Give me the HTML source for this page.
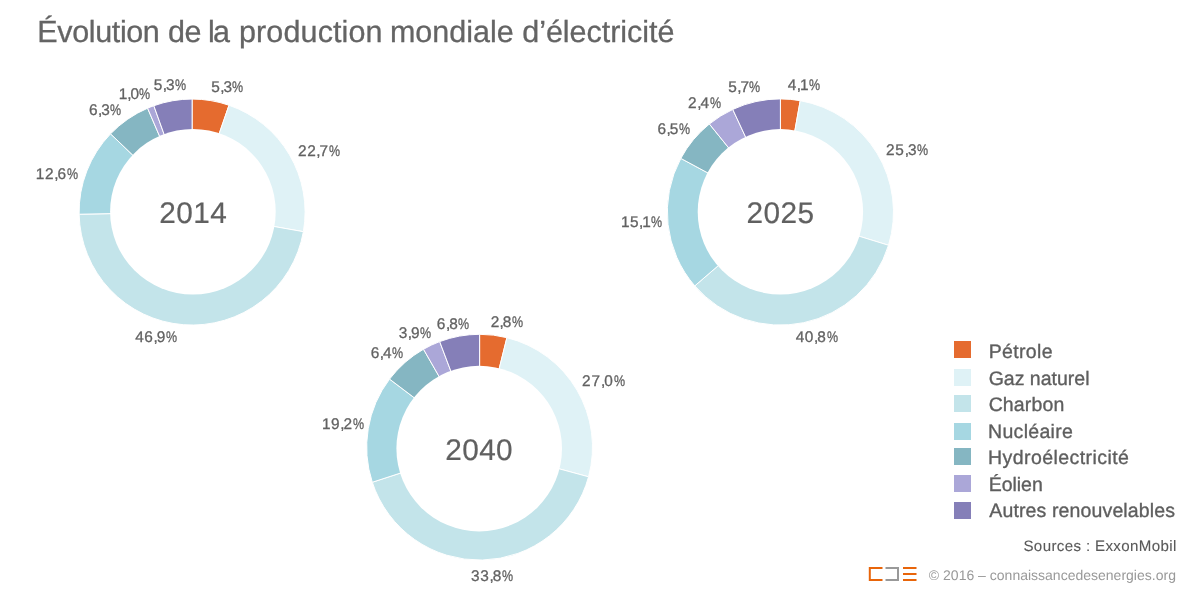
<!DOCTYPE html>
<html><head><meta charset="utf-8"><title>Évolution de la production mondiale d’électricité</title>
<style>
html,body{margin:0;padding:0;background:#fff;}
body{width:1200px;height:600px;position:relative;overflow:hidden;font-family:"Liberation Sans",sans-serif;text-rendering:geometricPrecision;}
#txt{position:absolute;left:0;top:0;width:1200px;height:600px;will-change:transform;}
.t{position:absolute;white-space:nowrap;line-height:1;}
.title{font-size:30.5px;color:#646464;-webkit-text-stroke:0.3px #646464;}
.yr{font-size:29.8px;color:#606060;-webkit-text-stroke:0.2px #606060;}
.lg{font-size:19.5px;color:#5e5e5e;-webkit-text-stroke:0.35px #5e5e5e;}
.lb{font-size:15.4px;color:#626262;-webkit-text-stroke:0.3px #626262;}
.src{font-size:15.1px;color:#585858;-webkit-text-stroke:0.1px #585858;}
.cp{font-size:14px;color:#999;}
.lb i{font-style:normal;letter-spacing:-1px;}
.lb b{font-weight:normal;display:inline-block;transform:scaleX(0.81);transform-origin:0 50%;letter-spacing:0;}
.sq{position:absolute;left:954px;width:17px;height:17px;}
svg{position:absolute;left:0;top:0;}
</style></head><body>
<svg width="1200" height="600" viewBox="0 0 1200 600">
<path d="M192.1 212.05L192.10 99.05A113.0 113.0 0 0 1 229.00 105.24Z" fill="#E56B2F" stroke="#fff" stroke-width="1" stroke-linejoin="round"/>
<path d="M192.1 212.05L229.00 105.24A113.0 113.0 0 0 1 303.38 231.67Z" fill="#DFF2F6" stroke="#fff" stroke-width="1" stroke-linejoin="round"/>
<path d="M192.1 212.05L303.38 231.67A113.0 113.0 0 0 1 79.12 214.22Z" fill="#C3E4EA" stroke="#fff" stroke-width="1" stroke-linejoin="round"/>
<path d="M192.1 212.05L79.12 214.22A113.0 113.0 0 0 1 110.54 133.84Z" fill="#A6D7E2" stroke="#fff" stroke-width="1" stroke-linejoin="round"/>
<path d="M192.1 212.05L110.54 133.84A113.0 113.0 0 0 1 147.58 108.19Z" fill="#85B6C2" stroke="#fff" stroke-width="1" stroke-linejoin="round"/>
<path d="M192.1 212.05L147.58 108.19A113.0 113.0 0 0 1 153.82 105.73Z" fill="#ABA7D8" stroke="#fff" stroke-width="1" stroke-linejoin="round"/>
<path d="M192.1 212.05L153.82 105.73A113.0 113.0 0 0 1 192.10 99.05Z" fill="#857FB8" stroke="#fff" stroke-width="1" stroke-linejoin="round"/>
<circle cx="192.9" cy="211.7" r="82.8" fill="#fff"/>
<path d="M780.4 212.0L780.40 98.90A113.1 113.1 0 0 1 800.23 100.65Z" fill="#E56B2F" stroke="#fff" stroke-width="1" stroke-linejoin="round"/>
<path d="M780.4 212.0L800.23 100.65A113.1 113.1 0 0 1 888.50 245.26Z" fill="#DFF2F6" stroke="#fff" stroke-width="1" stroke-linejoin="round"/>
<path d="M780.4 212.0L888.50 245.26A113.1 113.1 0 0 1 694.78 285.90Z" fill="#C3E4EA" stroke="#fff" stroke-width="1" stroke-linejoin="round"/>
<path d="M780.4 212.0L694.78 285.90A113.1 113.1 0 0 1 680.82 158.38Z" fill="#A6D7E2" stroke="#fff" stroke-width="1" stroke-linejoin="round"/>
<path d="M780.4 212.0L680.82 158.38A113.1 113.1 0 0 1 709.38 123.98Z" fill="#85B6C2" stroke="#fff" stroke-width="1" stroke-linejoin="round"/>
<path d="M780.4 212.0L709.38 123.98A113.1 113.1 0 0 1 732.78 109.41Z" fill="#ABA7D8" stroke="#fff" stroke-width="1" stroke-linejoin="round"/>
<path d="M780.4 212.0L732.78 109.41A113.1 113.1 0 0 1 780.40 98.90Z" fill="#857FB8" stroke="#fff" stroke-width="1" stroke-linejoin="round"/>
<circle cx="780.4" cy="211.8" r="82.7" fill="#fff"/>
<path d="M479.6 447.2L479.60 334.30A112.9 112.9 0 0 1 506.91 337.65Z" fill="#E56B2F" stroke="#fff" stroke-width="1" stroke-linejoin="round"/>
<path d="M479.6 447.2L506.91 337.65A112.9 112.9 0 0 1 588.55 476.80Z" fill="#DFF2F6" stroke="#fff" stroke-width="1" stroke-linejoin="round"/>
<path d="M479.6 447.2L588.55 476.80A112.9 112.9 0 0 1 372.29 482.28Z" fill="#C3E4EA" stroke="#fff" stroke-width="1" stroke-linejoin="round"/>
<path d="M479.6 447.2L372.29 482.28A112.9 112.9 0 0 1 389.55 379.10Z" fill="#A6D7E2" stroke="#fff" stroke-width="1" stroke-linejoin="round"/>
<path d="M479.6 447.2L389.55 379.10A112.9 112.9 0 0 1 423.49 349.23Z" fill="#85B6C2" stroke="#fff" stroke-width="1" stroke-linejoin="round"/>
<path d="M479.6 447.2L423.49 349.23A112.9 112.9 0 0 1 439.69 341.59Z" fill="#ABA7D8" stroke="#fff" stroke-width="1" stroke-linejoin="round"/>
<path d="M479.6 447.2L439.69 341.59A112.9 112.9 0 0 1 479.60 334.30Z" fill="#857FB8" stroke="#fff" stroke-width="1" stroke-linejoin="round"/>
<circle cx="479.2" cy="448.6" r="82.8" fill="#fff"/>
<g fill="none" stroke-width="2" stroke-linecap="butt">
<path d="M882.5 568H869.8V580H882.5" stroke="#E8650A"/>
<path d="M885.5 568H898V580H885.5" stroke="#999"/>
<path d="M903 568H916.5M903 574H916.5M903 580H916.5" stroke="#E8650A"/>
</g>
</svg>
<div class="sq" style="top:341px;background:#E56B2F"></div><div class="sq" style="top:369px;background:#DFF2F6"></div><div class="sq" style="top:395px;background:#C3E4EA"></div><div class="sq" style="top:423px;background:#A6D7E2"></div><div class="sq" style="top:448px;background:#85B6C2"></div><div class="sq" style="top:475px;background:#ABA7D8"></div><div class="sq" style="top:502px;background:#857FB8"></div>
<div id="txt">
<div class="t title" style="left:37.37px;top:17px;letter-spacing:-0.374px">Évolution</div>
<div class="t title" style="left:167.98px;top:17px;letter-spacing:-0.435px">de</div>
<div class="t title" style="left:207.99px;top:17px;letter-spacing:-1.639px">la</div>
<div class="t title" style="left:239.00px;top:17px;letter-spacing:0.127px">production</div>
<div class="t title" style="left:389.90px;top:17px;letter-spacing:0.019px">mondiale</div>
<div class="t title" style="left:522.21px;top:17px;letter-spacing:-0.031px">d’électricité</div>
<div class="t yr" style="left:159.32px;top:199px;letter-spacing:0.436px">2014</div>
<div class="t yr" style="left:746.48px;top:199px;letter-spacing:0.433px">2025</div>
<div class="t yr" style="left:445.25px;top:436px;letter-spacing:0.367px">2040</div>
<div class="t lg" style="left:988.70px;top:343px;letter-spacing:0.335px">Pétrole</div>
<div class="t lg" style="left:988.65px;top:370px;letter-spacing:0.004px">Gaz naturel</div>
<div class="t lg" style="left:988.65px;top:396px;letter-spacing:0.141px">Charbon</div>
<div class="t lg" style="left:988.09px;top:423px;letter-spacing:0.305px">Nucléaire</div>
<div class="t lg" style="left:988.09px;top:449px;letter-spacing:0.432px">Hydroélectricité</div>
<div class="t lg" style="left:988.70px;top:476px;letter-spacing:-0.022px">Éolien</div>
<div class="t lg" style="left:989.31px;top:502px;letter-spacing:0.131px">Autres renouvelables</div>
<div class="t lb" style="left:211.29px;top:80px;letter-spacing:0.343px">5<i>,</i>3<b>%</b></div>
<div class="t lb" style="left:298.10px;top:144px;letter-spacing:0.492px">22<i>,</i>7<b>%</b></div>
<div class="t lb" style="left:135.20px;top:330px;letter-spacing:0.627px">46<i>,</i>9<b>%</b></div>
<div class="t lb" style="left:35.86px;top:167px;letter-spacing:0.640px">12<i>,</i>6<b>%</b></div>
<div class="t lb" style="left:89.08px;top:103px;letter-spacing:0.423px">6<i>,</i>3<b>%</b></div>
<div class="t lb" style="left:118.80px;top:87px;letter-spacing:-0.062px">1<i>,</i>0<b>%</b></div>
<div class="t lb" style="left:153.87px;top:78px;letter-spacing:0.402px">5<i>,</i>3<b>%</b></div>
<div class="t lb" style="left:787.85px;top:78px;letter-spacing:0.265px">4<i>,</i>1<b>%</b></div>
<div class="t lb" style="left:885.99px;top:143px;letter-spacing:0.829px">25<i>,</i>3<b>%</b></div>
<div class="t lb" style="left:795.70px;top:330px;letter-spacing:0.627px">40<i>,</i>8<b>%</b></div>
<div class="t lb" style="left:620.95px;top:215px;letter-spacing:0.477px">15<i>,</i>1<b>%</b></div>
<div class="t lb" style="left:657.41px;top:122px;letter-spacing:0.483px">6<i>,</i>5<b>%</b></div>
<div class="t lb" style="left:687.99px;top:96px;letter-spacing:0.644px">2<i>,</i>4<b>%</b></div>
<div class="t lb" style="left:728.29px;top:80px;letter-spacing:0.343px">5<i>,</i>7<b>%</b></div>
<div class="t lb" style="left:490.64px;top:315px;letter-spacing:0.368px">2<i>,</i>8<b>%</b></div>
<div class="t lb" style="left:582.10px;top:374px;letter-spacing:0.825px">27<i>,</i>0<b>%</b></div>
<div class="t lb" style="left:470.97px;top:569px;letter-spacing:0.703px">33<i>,</i>8<b>%</b></div>
<div class="t lb" style="left:321.95px;top:417px;letter-spacing:0.543px">19<i>,</i>2<b>%</b></div>
<div class="t lb" style="left:370.80px;top:346px;letter-spacing:0.436px">6<i>,</i>4<b>%</b></div>
<div class="t lb" style="left:398.63px;top:326px;letter-spacing:0.625px">3<i>,</i>9<b>%</b></div>
<div class="t lb" style="left:436.80px;top:317px;letter-spacing:0.636px">6<i>,</i>8<b>%</b></div>
<div class="t src" style="left:1023.44px;top:539px;letter-spacing:0.363px">Sources : ExxonMobil</div>
<div class="t cp" style="left:928.85px;top:568px;letter-spacing:0.004px">© 2016 – connaissancedesenergies.org</div>
</div>
</body></html>
